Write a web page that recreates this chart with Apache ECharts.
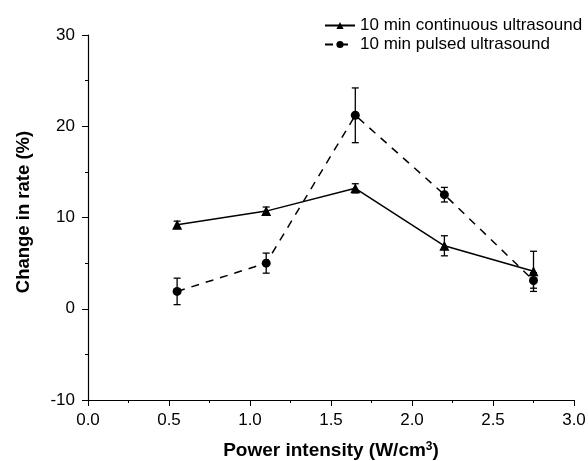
<!DOCTYPE html>
<html>
<head>
<meta charset="utf-8">
<script src="https://cdn.jsdelivr.net/npm/echarts@6/dist/echarts.min.js"></script>
<style>html,body{margin:0;padding:0;background:#fff}#c{width:588px;height:461px}</style>
</head>
<body>
<div id="c"></div>
<script>
var xValues = [0.55, 1.1, 1.65, 2.2, 2.75];
var continuousValues = [9.2, 10.7, 13.2, 6.9, 4.1];
var continuousErr = [0.4, 0.45, 0.5, 1.1, 2.2];
var pulsedValues = [1.9, 5.0, 21.2, 12.5, 3.1];
var pulsedErr = [1.45, 1.1, 3.0, 0.8, 0.85];
var seriesNames = ['10 min continuous ultrasound', '10 min pulsed ultrasound'];
var xTicks = [0, 0.5, 1.0, 1.5, 2.0, 2.5, 3.0];
var yTicks = [-10, 0, 10, 20, 30];
var xTitle = 'Power intensity (W/cm';
var xTitleSup = '3';
var yTitle = 'Change in rate (%)';

var font = 'Liberation Sans, Arial, sans-serif';
function pts(vals){ return xValues.map(function(x,i){ return [x, vals[i]]; }); }
function errData(vals, errs){ return xValues.map(function(x,i){ return [x, vals[i]-errs[i], vals[i]+errs[i]]; }); }
function errRender(params, api){
  var lo = api.coord([api.value(0), api.value(1)]);
  var hi = api.coord([api.value(0), api.value(2)]);
  var w = 3.5;
  var st = {stroke:'#000', lineWidth:1.3};
  return {type:'group', children:[
    {type:'line', shape:{x1:lo[0],y1:lo[1],x2:hi[0],y2:hi[1]}, style:st},
    {type:'line', shape:{x1:lo[0]-w,y1:lo[1],x2:lo[0]+w,y2:lo[1]}, style:st},
    {type:'line', shape:{x1:hi[0]-w,y1:hi[1],x2:hi[0]+w,y2:hi[1]}, style:st}
  ]};
}
var chart = echarts.init(document.getElementById('c'));
chart.setOption({
  animation:false,
  backgroundColor:'#fff',
  textStyle:{fontFamily:font},
  grid:{left:88, right:14, top:35, bottom:61, containLabel:false, outerBoundsMode:'none'},
  legend:{
    orient:'vertical', left:324, top:17, padding:0, itemGap:2, itemWidth:30, itemHeight:9,
    textStyle:{fontSize:17, color:'#000', fontFamily:font},
    data:seriesNames
  },
  xAxis:{
    type:'value', min:xTicks[0], max:xTicks[xTicks.length-1], interval:0.5,
    axisLine:{onZero:false, lineStyle:{color:'#000', width:1.2}},
    axisTick:{inside:false, length:6, lineStyle:{color:'#000'}},
    minorTick:{show:true, splitNumber:2, length:3, lineStyle:{color:'#000'}},
    splitLine:{show:false},
    axisLabel:{fontSize:17, color:'#000', margin:12, formatter:function(v){return v.toFixed(1);}, showMaxLabel:true},
    name:'{a|' + xTitle + '}{s|' + xTitleSup + '}{a|)}', nameLocation:'middle', nameGap:41,
    nameTextStyle:{rich:{a:{fontSize:19, fontWeight:'bold', color:'#000', fontFamily:font}, s:{fontSize:12, fontWeight:'bold', color:'#000', verticalAlign:'top', fontFamily:font}}}
  },
  yAxis:{
    type:'value', min:yTicks[0], max:yTicks[yTicks.length-1], interval:10,
    axisLine:{show:true, onZero:false, lineStyle:{color:'#000', width:1.2}},
    axisTick:{show:true, inside:false, length:6, lineStyle:{color:'#000'}},
    minorTick:{show:true, splitNumber:2, length:3, lineStyle:{color:'#000'}},
    splitLine:{show:false},
    axisLabel:{fontSize:17, color:'#000', margin:13}
  },
  graphic:[{
    type:'text', x:24, y:212, rotation:Math.PI/2,
    style:{text:yTitle, font:'bold 18.5px ' + font, fill:'#000', align:'center', verticalAlign:'middle'}
  }],
  series:[
    {type:'custom', renderItem:errRender, data:errData(continuousValues, continuousErr), z:1, silent:true},
    {type:'custom', renderItem:errRender, data:errData(pulsedValues, pulsedErr), z:1, silent:true},
    {name:seriesNames[0], type:'line', data:pts(continuousValues), symbol:'triangle', symbolSize:10,
     itemStyle:{color:'#000'}, lineStyle:{color:'#000', width:1.5, type:'solid'}, z:3},
    {name:seriesNames[1], type:'line', data:pts(pulsedValues), symbol:'circle', symbolSize:9,
     itemStyle:{color:'#000'}, lineStyle:{color:'#000', width:1.5, type:[8,7]}, z:3}
  ]
});
</script>
</body>
</html>
